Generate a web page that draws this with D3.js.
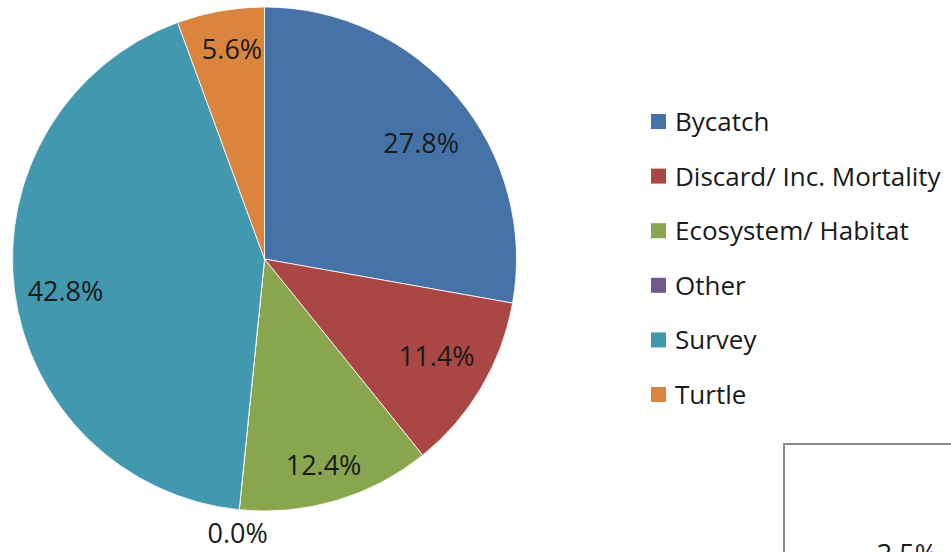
<!DOCTYPE html>
<html lang="en">
<head>
<meta charset="UTF-8">
<title>Pie chart</title>
<style>
    body { margin: 0; background: #fff; }
    svg { display: block; font-family: "Open Sans", sans-serif; }
    .label { font-size: 27px; fill: #1a1a1a; }
    .legend text { font-size: 26px; fill: #1a1a1a; }
</style>
</head>
<body>
<svg id="chart" width="951" height="552"></svg>
<script src="https://d3js.org/d3.v7.min.js"></script>
<script>
    const categories = ["Bycatch", "Discard/ Inc. Mortality", "Ecosystem/ Habitat", "Other", "Survey", "Turtle"];
    const values = [27.8, 11.4, 12.4, 0.0, 42.8, 5.6];
    const colors = ["#4572a7", "#aa4643", "#89a54e", "#71588f", "#4198af", "#db843d"];

    // label distance from centre (share of radius) plus a small nudge
    const labelPos = {
        "Bycatch": [0.77, 8, 8],
        "Discard/ Inc. Mortality": [0.78, 3, -4],
        "Ecosystem/ Habitat": [0.85, -2, 0],
        "Other": [1.1, 1, -2],
        "Survey": [0.8, 1, 6],
        "Turtle": [0.85, 5, 0]
    };

    const cx = 264.5, cy = 259, radius = 252;

    const data = categories.map((c, i) => ({name: c, value: values[i]}));

    const svg = d3.select("#chart");

    const color = d3.scaleOrdinal().domain(categories).range(colors);

    const pie = d3.pie().value(d => d.value).sort(null);
    const arcs = pie(data);
    const arc = d3.arc().innerRadius(0).outerRadius(radius);

    const g = svg.append("g").attr("transform", `translate(${cx}, ${cy})`);

    g.selectAll("path")
        .data(arcs)
        .join("path")
        .attr("d", arc)
        .attr("fill", d => color(d.data.name))
        .attr("stroke", "#fff")
        .attr("stroke-width", 0.8);

    g.selectAll("text.label")
        .data(arcs)
        .join("text")
        .attr("class", "label")
        .attr("transform", d => {
            let p = labelPos[d.data.name];
            let r = radius * p[0];
            let a = (d.startAngle + d.endAngle) / 2;
            return `translate(${Math.sin(a) * r + p[1]}, ${-Math.cos(a) * r + p[2]})`;
        })
        .attr("text-anchor", "middle")
        .attr("dominant-baseline", "central")
        .text(d => d.data.value.toFixed(1) + "%");

    // legend
    const legendY = d3.scalePoint().domain(categories).range([122, 395]);
    const legend = svg.append("g").attr("class", "legend");
    const item = legend.selectAll("g")
        .data(categories)
        .join("g")
        .attr("transform", d => `translate(651, ${legendY(d)})`);
    item.append("rect")
        .attr("x", 0).attr("y", -8)
        .attr("width", 15).attr("height", 15)
        .attr("fill", d => color(d));
    item.append("text")
        .attr("x", 24)
        .attr("y", -1)
        .attr("dominant-baseline", "central")
        .text(d => d);

    // edge of the neighbouring chart, cut off by the frame
    svg.append("rect")
        .attr("x", 784).attr("y", 444)
        .attr("width", 200).attr("height", 150)
        .attr("fill", "#fff")
        .attr("stroke", "#888")
        .attr("stroke-width", 2);
    svg.append("text")
        .attr("class", "label")
        .attr("x", 907).attr("y", 564)
        .attr("text-anchor", "middle")
        .text("3.5%");
</script>
</body>
</html>
